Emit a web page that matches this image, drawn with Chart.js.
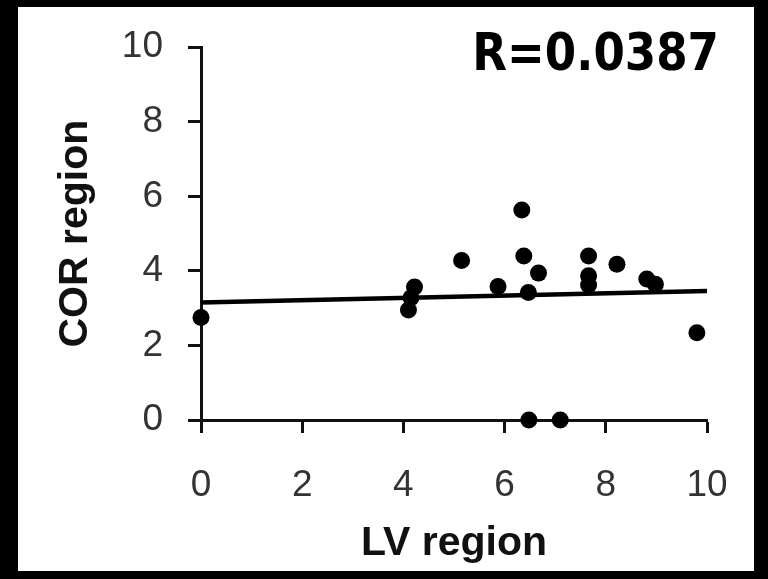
<!DOCTYPE html>
<html>
<head>
<meta charset="utf-8">
<title>COR vs LV region</title>
<script src="https://cdn.jsdelivr.net/npm/chart.js@4/dist/chart.umd.min.js"></script>
<style>
  html, body { margin: 0; padding: 0; background: #000; }
  #chart { display: block; }
</style>
</head>
<body>
<canvas id="chart" width="768" height="579"></canvas>
<script>
// LV region (x) vs COR region (y), one entry per sample
const lvRegion  = [0, 4.10, 4.15, 4.22, 5.15, 5.87, 6.34, 6.38, 6.47, 6.48, 6.67, 7.10, 7.66, 7.66, 7.66, 8.22, 8.81, 8.98, 9.80];
const corRegion = [2.75, 2.95, 3.28, 3.57, 4.28, 3.58, 5.63, 4.40, 3.42, 0, 3.94, 0, 4.40, 3.87, 3.62, 4.18, 3.78, 3.64, 2.34];

// regression line end points
const fitX = [0, 10];
const fitY = [3.15, 3.46];

const axisMin = 0;
const axisMax = 10;
const tickStep = 2;
const corrLabel = 'R=0.0387';

const ink = '#111';
const tickFont = { family: 'Liberation Sans', size: 37 };
const titleFont = { family: 'Liberation Sans', size: 41, weight: 'bold' };

// black frame round the white panel
const framePlugin = {
  id: 'frame',
  beforeDraw(chart) {
    const { ctx, width, height } = chart;
    ctx.save();
    ctx.fillStyle = '#000';
    ctx.fillRect(0, 0, width, height);
    ctx.fillStyle = '#fff';
    ctx.fillRect(18, 7, width - 18 - 14, height - 7 - 8);
    ctx.restore();
  }
};

// correlation coefficient in the top right corner (squeezed a little)
const corrPlugin = {
  id: 'corr',
  afterDraw(chart) {
    const { ctx } = chart;
    ctx.save();
    ctx.translate(719, 70);
    ctx.scale(0.885, 1);
    ctx.font = 'bold 51px "DejaVu Sans"';
    ctx.fillStyle = '#000';
    ctx.textAlign = 'right';
    ctx.textBaseline = 'alphabetic';
    ctx.fillText(corrLabel, 0, 0);
    ctx.restore();
  }
};

const points = lvRegion.map((x, i) => ({ x, y: corRegion[i] }));
const fitLine = fitX.map((x, i) => ({ x, y: fitY[i] }));

new Chart(document.getElementById('chart').getContext('2d'), {
  type: 'scatter',
  data: {
    datasets: [
      {
        type: 'line',
        data: fitLine,
        borderColor: '#000',
        borderWidth: 4.5,
        pointRadius: 0,
        fill: false,
        clip: false
      },
      {
        data: points,
        backgroundColor: '#000',
        borderWidth: 0,
        pointRadius: 8.5,
        pointHoverRadius: 8.5,
        clip: false
      }
    ]
  },
  options: {
    responsive: false,
    animation: false,
    layout: { padding: { left: 20, right: 61, top: 45, bottom: 10 } },
    plugins: { legend: { display: false }, tooltip: { enabled: false } },
    scales: {
      x: {
        type: 'linear',
        min: axisMin, max: axisMax,
        ticks: { stepSize: tickStep, font: tickFont, color: '#333', padding: 31, maxRotation: 0 },
        grid: { drawOnChartArea: false, drawTicks: true, tickLength: 13, tickWidth: 3, tickColor: ink },
        border: { color: ink, width: 3 },
        title: { display: true, text: 'LV region', font: titleFont, color: ink, padding: { top: 0, bottom: 1 } },
        afterFit(scale) { scale.height = 579 - 420 - 10; }
      },
      y: {
        type: 'linear',
        min: axisMin, max: axisMax,
        ticks: { stepSize: tickStep, font: tickFont, color: '#333', padding: 25 },
        grid: { drawOnChartArea: false, drawTicks: true, tickLength: 13, tickWidth: 3, tickColor: ink },
        border: { color: ink, width: 3 },
        title: { display: true, text: 'COR region', font: titleFont, color: ink, padding: { top: 31, bottom: 0 } },
        afterFit(scale) { scale.width = 201 - 20; }
      }
    }
  },
  plugins: [framePlugin, corrPlugin]
});
</script>
</body>
</html>
